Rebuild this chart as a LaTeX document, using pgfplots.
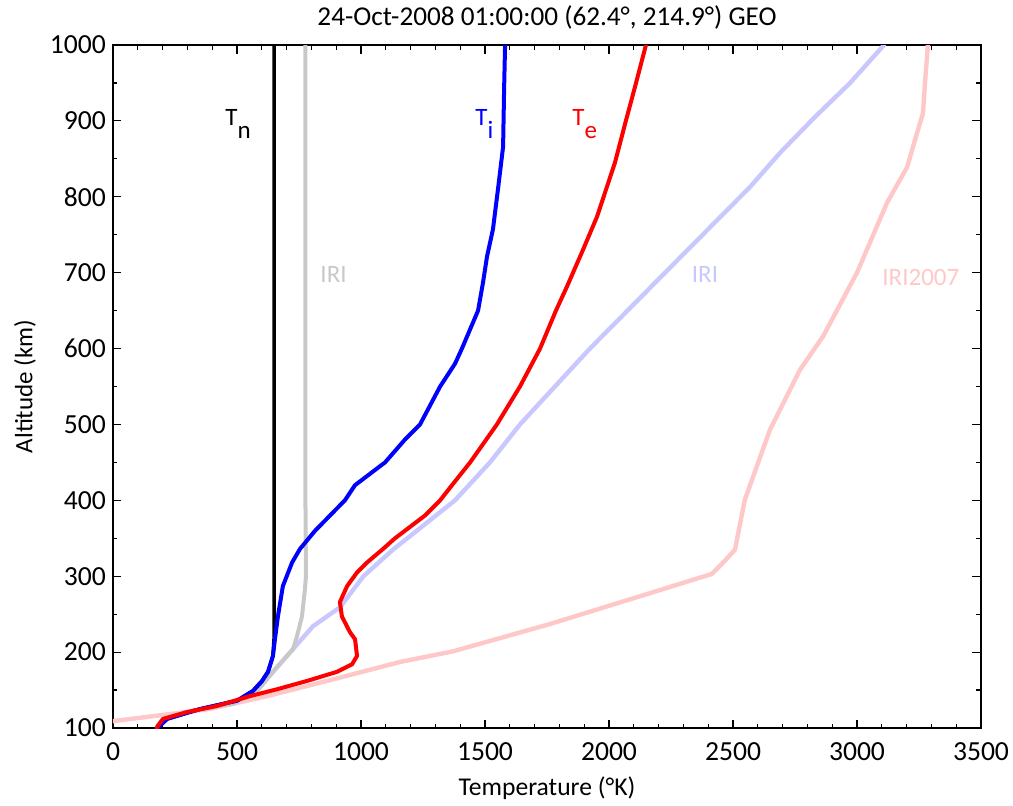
\documentclass[border=0pt]{standalone}
\usepackage{fontspec}
\setmainfont{Carlito}
\usepackage{pgfplots}
\pgfplotsset{compat=1.18}
\definecolor{irigray}{RGB}{200,200,200}
\definecolor{iriblue}{RGB}{200,200,255}
\definecolor{irired}{RGB}{255,200,200}
\begin{document}
\begin{tikzpicture}
\useasboundingbox (-56.5pt,-38.5pt) rectangle (450pt,364pt);
\begin{axis}[
 at={(0,0)}, anchor=south west,
 width=434pt, height=341.5pt, scale only axis,
 xmin=0, xmax=3500, ymin=100, ymax=1000,
 xtick={0,500,...,3500}, ytick={100,200,...,1000},
 minor x tick num=4, minor y tick num=1,
 tick align=inside, major tick length=4.25pt, minor tick length=2.25pt,
 axis line style={line width=1pt},
 tick style={black, line width=0.6pt},
 font=\fontsize{12.5}{15}\selectfont,
 ticklabel style={font=\fontsize{13.8}{16}\selectfont},
 /pgf/number format/assume math mode=true,
 /pgf/number format/set thousands separator={},
 xticklabel style={anchor=base, yshift=-16pt},
 xlabel={Temperature (°K)},
 xlabel style={at={(axis description cs:0.5,0)}, anchor=base, yshift=-33.5pt, font=\fontsize{12.8}{15}\selectfont},
 ylabel={Altitude (km)},
 ylabel style={at={(axis description cs:-0.1014,0.5)}, anchor=center, rotate=0},
 title={24-Oct-2008 01:00:00 (62.4°, 214.9°) GEO},
 title style={at={(axis description cs:0.5,1)}, anchor=base, yshift=4pt, font=\fontsize{13.6}{16}\selectfont},
 every axis plot/.append style={line width=2pt, line join=round, line cap=round},
]
% IRI2007 Te
\addplot[irired, line width=2.2pt] coordinates {
(0,109) (391,125) (621,142) (887,164) (1157,187) (1371,201) (1762,237) (2089,270)
(2415,303) (2460,318) (2508,335) (2548,401) (2649,493) (2770,572)
(2863,616) (3000,700) (3121,792) (3202,839) (3242,884) (3266,910) (3274,950) (3286,1000)};
% IRI Ti
\addplot[iriblue, line width=2.2pt] coordinates {
(177,100) (181,103) (202,112) (298,121) (419,129) (484,132) (581,149) (645,174)
(726,204) (806,234) (915,259) (1010,300) (1129,335) (1379,400) (1520,450)
(1641,500) (1923,600) (2226,700) (2569,813) (2690,858) (2830,905)
(2972,950) (3109,1000)};
% IRI Tn
\addplot[irigray] coordinates {
(177,100) (181,103) (202,112) (298,121) (419,129) (484,132) (581,149) (645,174)
(726,204) (742,221) (762,247) (774,283) (778,300) (776,400) (776,600) (776,800) (776,1000)};
% Tn
\addplot[black, line width=1.8pt] coordinates {
(177,100) (190,103) (218,112) (351,125) (500,136) (565,149) (601,162) (625,174)
(645,195) (650,220) (650,400) (650,700) (650,1000)};
% Ti
\addplot[blue] coordinates {
(177,100) (190,103) (218,112) (351,125) (500,136) (565,149) (601,162) (625,174)
(645,195) (653,217) (665,247) (685,287) (722,318) (754,336) (815,360) (875,380)
(935,400) (976,420) (1097,450) (1177,480) (1238,500) (1319,550) (1379,580)
(1407,600) (1472,650) (1492,687) (1508,721) (1532,757) (1552,809) (1573,866)
(1577,941) (1581,1000)};
% Te
\addplot[red] coordinates {
(177,100) (181,103) (202,112) (298,121) (419,129) (552,142) (661,151) (782,162)
(903,174) (964,184) (984,195) (976,217) (956,226) (923,247) (915,266) (944,287)
(984,305) (1024,318) (1089,336) (1137,350) (1258,380) (1319,400) (1367,420)
(1440,450) (1548,500) (1641,550) (1722,600) (1786,650) (1831,682) (1895,730)
(1952,774) (2024,845) (2068,900) (2105,945) (2149,1000)};
% labels
\node[anchor=base west, inner sep=0pt, black] at (axis cs:452,894) {T\raisebox{-6.5pt}{n}};
\node[anchor=base west, inner sep=0pt, blue] at (axis cs:1460,894) {T\raisebox{-6.5pt}{i}};
\node[anchor=base west, inner sep=0pt, red] at (axis cs:1851,894) {T\raisebox{-6.5pt}{e}};
\node[anchor=west, inner sep=0pt, irigray] at (axis cs:835,697) {IRI};
\node[anchor=center, inner sep=0pt, iriblue] at (axis cs:2387,697) {IRI};
\node[anchor=west, inner sep=0pt, irired] at (axis cs:3101,694) {IRI2007};
\end{axis}
\end{tikzpicture}
\end{document}
